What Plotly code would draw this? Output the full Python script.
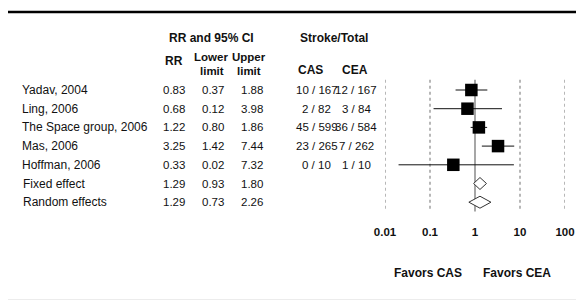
import plotly.graph_objects as go

# ---- data ----
studies = ["Yadav, 2004", "Ling, 2006", "The Space group, 2006", "Mas, 2006", "Hoffman, 2006"]
rr = [0.83, 0.68, 1.22, 3.25, 0.33]
lower = [0.37, 0.12, 0.80, 1.42, 0.02]
upper = [1.88, 3.98, 1.86, 7.44, 7.32]
cas = ["10 / 167", "2 / 82", "45 / 599", "23 / 265", "0 / 10"]
cea = ["12 / 167", "3 / 84", "36 / 584", "7 / 262", "1 / 10"]

pooled = ["Fixed effect", "Random effects"]
pooled_rr = [1.29, 1.29]
pooled_lower = [0.93, 0.73]
pooled_upper = [1.80, 2.26]

tick_vals = [0.01, 0.1, 1, 10, 100]
tick_labels = ["0.01", "0.1", "1", "10", "100"]

W, H = 584, 301
OFF = 8  # page offset of the plot div
FONT = "Liberation Sans, Arial, sans-serif"
TXT = "#111111"

def px(x):
    return (x - OFF) / W

def py(y):
    return 1 - (y - OFF) / H

fig = go.Figure()

n = len(studies)
rows = list(range(n))

# study squares with CI whiskers
fig.add_trace(go.Scatter(
    x=rr, y=rows, mode="markers",
    marker=dict(symbol="square", size=12.5, color="black"),
    error_x=dict(type="data", symmetric=False,
                 array=[u - r for u, r in zip(upper, rr)],
                 arrayminus=[r - l for r, l in zip(rr, lower)],
                 color="#111111", thickness=1, width=0),
    hoverinfo="skip", showlegend=False,
))

# pooled diamonds
h = 0.32
for k in range(len(pooled)):
    yi = n + k
    fig.add_trace(go.Scatter(
        x=[pooled_lower[k], pooled_rr[k], pooled_upper[k], pooled_rr[k], pooled_lower[k]],
        y=[yi, yi - h, yi, yi + h, yi],
        mode="lines", fill="toself", fillcolor="white",
        line=dict(color="#333333", width=1),
        hoverinfo="skip", showlegend=False,
    ))

shapes = []
for v in tick_vals:
    shapes.append(dict(type="line", xref="x", yref="y", x0=v, x1=v,
                       y0=-0.55, y1=6.5,
                       line=dict(color="#777777" if v == 1 else "#888888",
                                 width=1.3 if v == 1 else 1.2,
                                 dash="solid" if v == 1 else "dot"),
                       layer="below"))
shapes.append(dict(type="line", xref="paper", yref="paper", x0=px(8), x1=1,
                   y0=py(12), y1=py(12), line=dict(color="black", width=2.5)))
shapes.append(dict(type="line", xref="paper", yref="paper", x0=px(8), x1=1,
                   y0=py(299.5), y1=py(299.5), line=dict(color="#ececec", width=1)))

ann = []
def add_text(text, x, y, yref="paper", xanchor="center", bold=False, size=12):
    ann.append(dict(text=f"<b>{text}</b>" if bold else text,
                    x=px(x), y=y if yref == "y" else py(y),
                    xref="paper", yref=yref, xanchor=xanchor, yanchor="middle",
                    showarrow=False, font=dict(family=FONT, size=size, color=TXT)))

# headers
add_text("RR and 95% CI", 211.5, 38, bold=True)
add_text("Stroke/Total", 333.5, 38, bold=True)
add_text("RR", 173.5, 61, bold=True)
add_text("Lower", 211, 57, bold=True, size=11.5)
add_text("limit", 212, 71, bold=True, size=11.5)
add_text("Upper", 248.5, 57, bold=True, size=11.5)
add_text("limit", 248.5, 71, bold=True, size=11.5)
add_text("CAS", 310.5, 70, bold=True)
add_text("CEA", 354.5, 70, bold=True)

# rows
for i in range(n):
    add_text(studies[i], 20, i, yref="y", xanchor="left")
    add_text(f"{rr[i]:.2f}", 174, i, yref="y", size=11.5)
    add_text(f"{lower[i]:.2f}", 213, i, yref="y", size=11.5)
    add_text(f"{upper[i]:.2f}", 252, i, yref="y", size=11.5)
    add_text(cas[i], 317, i, yref="y", size=11.5)
    add_text(cea[i], 356, i, yref="y", size=11.5)
for k in range(len(pooled)):
    yi = n + k
    add_text(pooled[k], 21, yi, yref="y", xanchor="left")
    add_text(f"{pooled_rr[k]:.2f}", 174, yi, yref="y", size=11.5)
    add_text(f"{pooled_lower[k]:.2f}", 213, yi, yref="y", size=11.5)
    add_text(f"{pooled_upper[k]:.2f}", 252, yi, yref="y", size=11.5)

add_text("Favors CAS", 427.5, 273, bold=True)
add_text("Favors CEA", 517, 273, bold=True)

row_px = 18.7
row0_px = 90 - OFF
dom_bottom_px = 223 - OFF
fig.update_layout(
    width=W, height=H,
    margin=dict(l=0, r=0, t=0, b=0, autoexpand=False),
    paper_bgcolor="white", plot_bgcolor="white",
    xaxis=dict(type="log", range=[-2, 2], domain=[px(385), px(565)],
               tickvals=tick_vals, ticktext=[f"<b>{t}</b>" for t in tick_labels],
               tickfont=dict(family=FONT, size=11.5, color=TXT),
               showgrid=False, zeroline=False, showline=False, ticks=""),
    yaxis=dict(range=[(dom_bottom_px - row0_px) / row_px, -row0_px / row_px],
               domain=[1 - dom_bottom_px / H, 1], visible=False),
    shapes=shapes, annotations=ann,
)

fig.write_html("out.html")
